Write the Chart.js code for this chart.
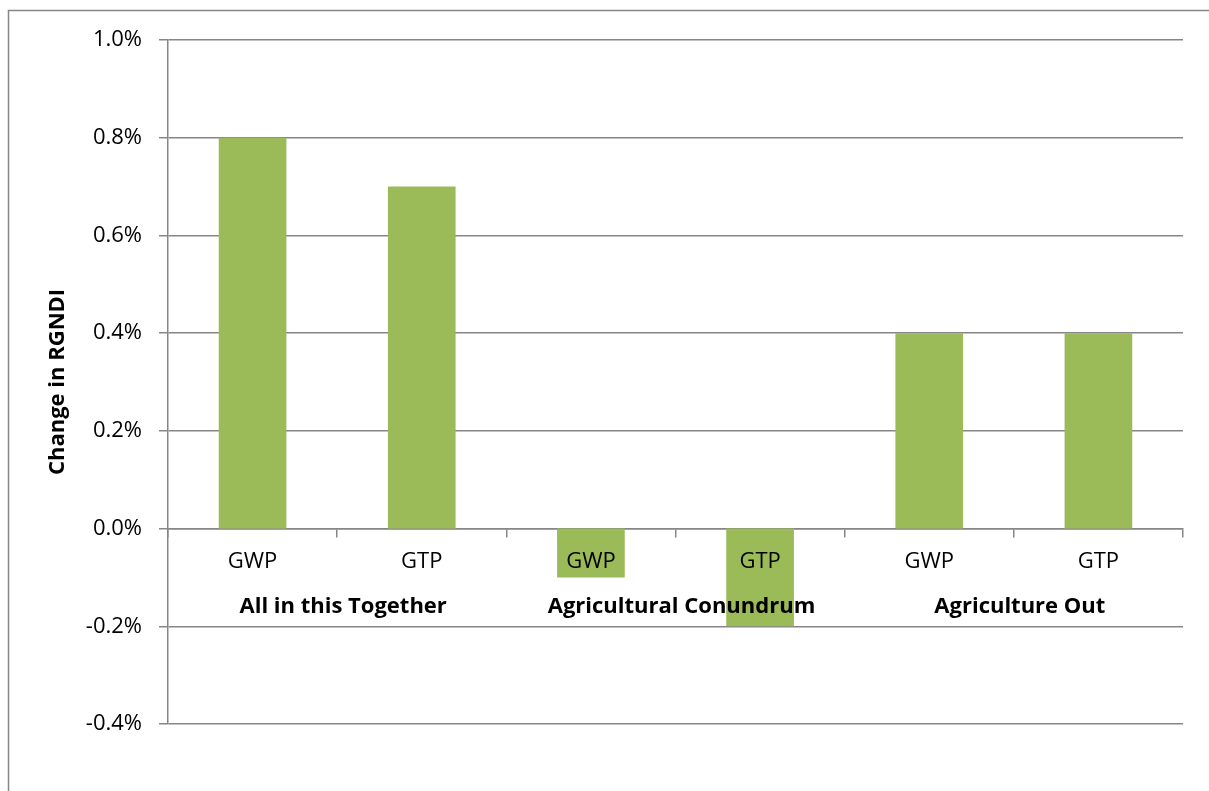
<!DOCTYPE html>
<html>
<head>
<meta charset="utf-8">
<title>Change in RGNDI</title>
<script src="https://cdn.jsdelivr.net/npm/chart.js@4/dist/chart.umd.min.js"></script>
<style>
    html, body { margin: 0; padding: 0; background: #fff; }
    #wrap { width: 1209px; height: 791px; position: relative; }
</style>
</head>
<body>
<div id="wrap"><canvas id="rgndiChart"></canvas></div>
<script>
// metric under each bar, and the scenario each pair of bars belongs to
const metrics = ['GWP', 'GTP', 'GWP', 'GTP', 'GWP', 'GTP'];
const scenarios = ['All in this Together', 'Agricultural Conundrum', 'Agriculture Out'];
// change in RGNDI, percent
const changeInRgndi = [0.8, 0.7, -0.1, -0.2, 0.4, 0.4];
const yMin = -0.4;
const yMax = 1.0;
const yStep = 0.2;

const gridGrey = '#868686';
const barGreen = '#9BBB59';
const fontFamily = '"Open Sans", "Noto Sans", sans-serif';

// thin outer frame around the chart (left and top edges)
const framePlugin = {
    id: 'frame',
    beforeDraw(chart) {
        const c = chart.ctx;
        c.save();
        c.strokeStyle = gridGrey;
        c.lineWidth = 1.5;
        c.beginPath();
        c.moveTo(8.5, chart.height);
        c.lineTo(8.5, 10.5);
        c.lineTo(chart.width, 10.5);
        c.stroke();
        c.restore();
    }
};

document.addEventListener('DOMContentLoaded', () => {
    const ctx = document.getElementById('rgndiChart').getContext('2d');

    new Chart(ctx, {
        type: 'bar',
        data: {
            labels: metrics,
            datasets: [{
                label: 'Change in RGNDI',
                data: changeInRgndi,
                backgroundColor: barGreen,
                borderWidth: 0,
                categoryPercentage: 1.0,
                barPercentage: 0.4
            }]
        },
        options: {
            responsive: true,
            maintainAspectRatio: false,
            animation: false,
            layout: {
                padding: { left: 0, top: 40, right: 26, bottom: 67 }
            },
            plugins: {
                legend: { display: false },
                tooltip: { enabled: false }
            },
            scales: {
                x: {
                    type: 'category',
                    position: { y: 0 },
                    offset: true,
                    grid: {
                        offset: true,
                        drawOnChartArea: false,
                        drawTicks: true,
                        tickLength: 8,
                        color: gridGrey,
                        lineWidth: 1.5
                    },
                    border: { display: true, color: gridGrey, width: 1.5 },
                    ticks: {
                        z: 1, // labels sit on top of the negative bars
                        color: '#000',
                        padding: 12,
                        maxRotation: 0,
                        autoSkip: false,
                        font: { family: fontFamily, size: 22 }
                    }
                },
                scenario: {
                    type: 'category',
                    axis: 'x',
                    labels: scenarios,
                    position: { y: 0 },
                    offset: true,
                    grid: { display: false, drawTicks: false },
                    border: { display: false },
                    ticks: {
                        z: 1,
                        color: '#000',
                        padding: 65,
                        labelOffset: 6,
                        maxRotation: 0,
                        autoSkip: false,
                        font: { family: fontFamily, size: 22, weight: 'bold' }
                    }
                },
                y: {
                    min: yMin,
                    max: yMax,
                    afterFit: (scale) => { scale.width = 168; },
                    grid: {
                        color: gridGrey,
                        lineWidth: 1.5,
                        tickLength: 9
                    },
                    border: { display: true, color: gridGrey, width: 1.5 },
                    title: {
                        display: true,
                        text: 'Change in RGNDI',
                        color: '#000',
                        padding: { top: 45, bottom: 0 },
                        font: { family: fontFamily, size: 22, weight: 'bold' }
                    },
                    ticks: {
                        stepSize: yStep,
                        color: '#000',
                        padding: 17,
                        font: { family: fontFamily, size: 22 },
                        callback: (value) => (Math.round(value * 10) / 10).toFixed(1) + '%'
                    }
                }
            }
        },
        plugins: [framePlugin]
    });
});
</script>
</body>
</html>
